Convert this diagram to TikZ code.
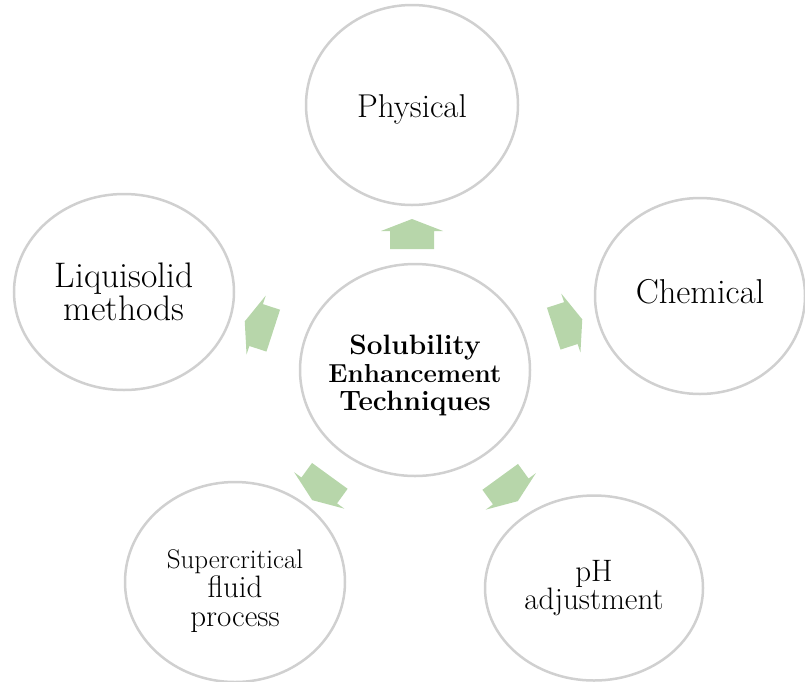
\documentclass[tikz,border=0pt]{standalone}
\usepackage{tikz}
\usetikzlibrary{shapes.geometric}
\definecolor{verdeflecha}{RGB}{183,214,170}
\definecolor{grisborde}{RGB}{208,208,208}

\begin{document}
\begin{tikzpicture}[x=1pt, y=-1pt,
    every node/.style={ellipse, draw=grisborde, line width=2.5pt, align=center, inner sep=0pt},
    flecha/.style={fill=verdeflecha}]
    \useasboundingbox (0,0) rectangle (805,681);

    % Circulo central
    \node[minimum width=230, minimum height=212, inner xsep=-30pt, text height=87pt,
          font=\fontsize{28}{28}\selectfont\bfseries] (sol) at (415,370)
        {Solubility\\
         \fontsize{26}{28}\selectfont Enhancement\\
         Techniques};

    % Circulos exteriores
    \node[minimum width=212, minimum height=200, text height=31pt, font=\fontsize{33}{34}\selectfont] (fis) at (412,105) {Physical};
    \node[minimum width=210, minimum height=196, text depth=10pt, font=\fontsize{34.5}{34}\selectfont] (qui) at (700,296) {Chemical};
    \node[minimum width=220, minimum height=196, font=\fontsize{35.5}{28}\selectfont] (liq) at (124,292) {Liquisolid\\methods};
    \node[minimum width=220, minimum height=200, text height=95pt, font=\fontsize{31}{29}\selectfont] (sup) at (235,582)
        {\fontsize{27}{29}\selectfont Supercritical\\
         fluid\\
         process};
    \node[minimum width=218, minimum height=185, font=\fontsize{31}{27}\selectfont] (ph) at (594,588) {pH\\adjustment};

    % Flechas hacia fuera
    \foreach \x/\y/\ang in {412/234/90, 568/324/18, 259/326/162, 321/488/234, 509/489/306}
        \fill[flecha, shift={(\x,\y)}, rotate=\ang]
            (-15,-22) -- (3,-22) -- (3,-31) -- (15,0) -- (3,31) -- (3,22) -- (-15,22) -- cycle;
\end{tikzpicture}
\end{document}
